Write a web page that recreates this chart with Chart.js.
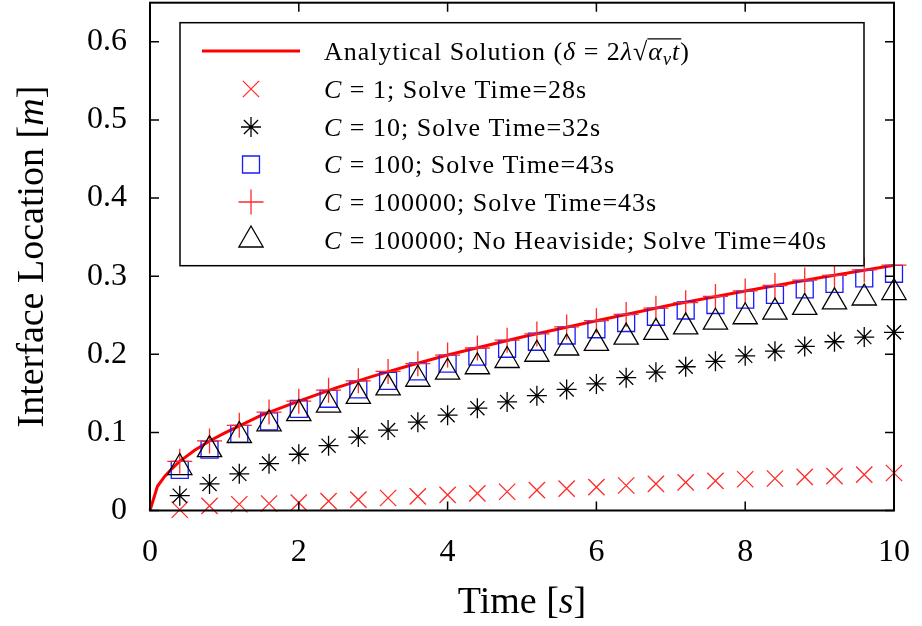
<!DOCTYPE html>
<html>
<head>
<meta charset="utf-8">
<script src="https://cdn.jsdelivr.net/npm/chart.js@4.4.1/dist/chart.umd.min.js"></script>
<style>
    html, body { margin: 0; padding: 0; background: #fff; }
</style>
</head>
<body>
<canvas id="interface-chart" width="922" height="626"></canvas>
<script>
// sample times of the simulations [s]
const times = [0.4, 0.8, 1.2, 1.6, 2.0, 2.4, 2.8, 3.2, 3.6, 4.0, 4.4, 4.8, 5.2,
               5.6, 6.0, 6.4, 6.8, 7.2, 7.6, 8.0, 8.4, 8.8, 9.2, 9.6, 10.0];

// analytical curve
const analyticT = [0, 0.1, 0.2, 0.3, 0.4, 0.6, 0.8, 1, 1.5, 2, 2.5, 3, 3.5, 4, 5, 6, 7, 8, 9, 10];
const analyticY = [0, 0.031, 0.044, 0.054, 0.063, 0.077, 0.089, 0.099, 0.122, 0.140,
                   0.157, 0.172, 0.186, 0.199, 0.222, 0.243, 0.263, 0.281, 0.298, 0.314];

// interface location [m] per run
const c1 = [0.001, 0.006, 0.008, 0.009, 0.010, 0.012, 0.014, 0.016, 0.018, 0.020, 0.022, 0.024, 0.026,
            0.028, 0.030, 0.032, 0.034, 0.036, 0.038, 0.040, 0.041, 0.043, 0.044, 0.046, 0.048];
const c10 = [0.019, 0.034, 0.047, 0.060, 0.072, 0.083, 0.094, 0.103, 0.113, 0.122, 0.131, 0.139, 0.147,
             0.155, 0.162, 0.170, 0.177, 0.184, 0.191, 0.198, 0.204, 0.210, 0.216, 0.222, 0.228];
const c100 = [0.052, 0.078, 0.098, 0.114, 0.130, 0.143, 0.155, 0.166, 0.178, 0.188, 0.197, 0.207, 0.216,
              0.224, 0.232, 0.240, 0.248, 0.256, 0.263, 0.270, 0.276, 0.283, 0.290, 0.297, 0.303];
const c100000 = [0.063, 0.089, 0.109, 0.126, 0.140, 0.154, 0.166, 0.178, 0.188, 0.199, 0.208, 0.218, 0.226,
                 0.235, 0.243, 0.251, 0.259, 0.266, 0.274, 0.281, 0.288, 0.295, 0.301, 0.308, 0.314];
const noHeaviside = [0.055, 0.078, 0.096, 0.111, 0.124, 0.135, 0.146, 0.157, 0.168, 0.177, 0.184, 0.192, 0.200,
                     0.208, 0.214, 0.222, 0.228, 0.235, 0.241, 0.248, 0.254, 0.260, 0.267, 0.272, 0.279];

const xTicks = [0, 2, 4, 6, 8, 10];
const yTicks = [0, 0.1, 0.2, 0.3, 0.4, 0.5, 0.6];

// legend texts: i = italic, sub = subscript, bar = under the root sign
const legendRows = [
    [{t: 'Analytical Solution ('}, {t: 'δ', i: 1}, {t: ' = 2'}, {t: 'λ', i: 1}, {t: '√'},
     {t: 'α', i: 1, bar: 1}, {t: 'v', i: 1, sub: 1, bar: 1}, {t: 't', i: 1, bar: 1}, {t: ')'}],
    [{t: 'C', i: 1}, {t: ' = 1; Solve Time=28s'}],
    [{t: 'C', i: 1}, {t: ' = 10; Solve Time=32s'}],
    [{t: 'C', i: 1}, {t: ' = 100; Solve Time=43s'}],
    [{t: 'C', i: 1}, {t: ' = 100000; Solve Time=43s'}],
    [{t: 'C', i: 1}, {t: ' = 100000; No Heaviside; Solve Time=40s'}]
];

const FONT = '"Liberation Serif", "Times New Roman", serif';

function pts(xs, ys) {
    return xs.map((x, i) => ({x: x, y: ys[i]}));
}

function setFont(ctx, p, size) {
    ctx.font = (p.i ? 'italic ' : '') + (p.sub ? size * 0.7 : size) + 'px ' + FONT;
}

function richWidth(ctx, parts, size) {
    let w = 0;
    parts.forEach(p => {
        setFont(ctx, p, size);
        w += ctx.measureText(p.t).width;
    });
    return w;
}

function drawRich(ctx, parts, x, y, size) {
    let barStart = null, barEnd = null;
    ctx.textBaseline = 'alphabetic';
    ctx.textAlign = 'left';
    parts.forEach(p => {
        setFont(ctx, p, size);
        ctx.fillText(p.t, x, y + (p.sub ? size * 0.2 : 0));
        const w = ctx.measureText(p.t).width;
        if (p.bar) {
            if (barStart === null) barStart = x;
            barEnd = x + w;
        }
        x += w;
    });
    if (barStart !== null) {
        ctx.beginPath();
        ctx.lineWidth = 1.2;
        ctx.moveTo(barStart - 1, y - size * 0.8);
        ctx.lineTo(barEnd + 1, y - size * 0.8);
        ctx.stroke();
    }
}

const frameAndLabels = {
    id: 'frameAndLabels',
    afterDraw(chart) {
        const ctx = chart.ctx;
        const a = chart.chartArea;
        const xs = chart.scales.x, ys = chart.scales.y;
        ctx.save();
        ctx.strokeStyle = '#000';
        ctx.fillStyle = '#000';

        // inward ticks on all four sides
        ctx.lineWidth = 1.5;
        ctx.beginPath();
        xTicks.forEach(v => {
            const px = xs.getPixelForValue(v);
            ctx.moveTo(px, a.bottom); ctx.lineTo(px, a.bottom - 9);
            ctx.moveTo(px, a.top); ctx.lineTo(px, a.top + 9);
        });
        yTicks.forEach(v => {
            const py = ys.getPixelForValue(v);
            ctx.moveTo(a.left, py); ctx.lineTo(a.left + 9, py);
            ctx.moveTo(a.right, py); ctx.lineTo(a.right - 9, py);
        });
        ctx.stroke();
        ctx.lineWidth = 2;
        ctx.strokeRect(a.left, a.top, a.right - a.left, a.bottom - a.top);

        // axis titles
        const ts = 38;
        const xTitle = [{t: 'Time ['}, {t: 's', i: 1}, {t: ']'}];
        const xw = richWidth(ctx, xTitle, ts);
        drawRich(ctx, xTitle, (a.left + a.right) / 2 - xw / 2, 613, ts);

        const yTitle = [{t: 'Interface Location ['}, {t: 'm', i: 1}, {t: ']'}];
        const yw = richWidth(ctx, yTitle, ts);
        ctx.save();
        ctx.translate(43, (a.top + a.bottom) / 2);
        ctx.rotate(-Math.PI / 2);
        drawRich(ctx, yTitle, -yw / 2, 0, ts);
        ctx.restore();

        // legend
        const box = {x: 180, y: 22.7, w: 684, h: 243};
        ctx.fillStyle = '#fff';
        ctx.fillRect(box.x, box.y, box.w, box.h);
        ctx.lineWidth = 1.5;
        ctx.strokeRect(box.x, box.y, box.w, box.h);

        const rowY = [51, 89, 127, 164.5, 202, 240];
        const ls = 26;
        chart.data.datasets.forEach((ds, i) => {
            const cy = rowY[i];
            ctx.save();
            ctx.strokeStyle = ds.borderColor;
            if (ds.showLine) {
                ctx.lineWidth = ds.borderWidth;
                ctx.beginPath();
                ctx.moveTo(202, cy);
                ctx.lineTo(300, cy);
                ctx.stroke();
            } else {
                ctx.lineWidth = ds.pointBorderWidth;
                ctx.fillStyle = 'rgba(0,0,0,0)';
                Chart.helpers.drawPoint(ctx, {
                    pointStyle: ds.pointStyle,
                    radius: ds.pointRadius,
                    rotation: 0,
                    borderWidth: ds.pointBorderWidth
                }, 251, cy);
            }
            ctx.restore();
            ctx.save();
            ctx.fillStyle = '#000';
            ctx.strokeStyle = '#000';
            ctx.letterSpacing = '1px';
            drawRich(ctx, legendRows[i], 324, cy + ls * 0.33, ls);
            ctx.restore();
        });
        ctx.restore();
    }
};

function markerSet(label, values, style, color, radius, order) {
    return {
        label: label,
        data: pts(times, values),
        showLine: false,
        pointStyle: style,
        pointRadius: radius,
        pointHoverRadius: radius,
        pointBorderWidth: 1.3,
        borderColor: color,
        pointBorderColor: color,
        pointBackgroundColor: 'rgba(0,0,0,0)',
        clip: false,
        order: order
    };
}

function noPadding(s) {
    s.paddingTop = 0;
    s.paddingBottom = 0;
    s.paddingLeft = 0;
    s.paddingRight = 0;
}

const ctx = document.getElementById('interface-chart');
new Chart(ctx, {
    type: 'scatter',
    data: {
        datasets: [
            {
                label: 'Analytical Solution',
                data: pts(analyticT, analyticY),
                showLine: true,
                borderColor: '#ff0000',
                borderWidth: 3,
                pointRadius: 0,
                tension: 0,
                clip: false,
                order: 5
            },
            markerSet('C = 1', c1, 'crossRot', '#ff2a2a', 11.5, 4),
            markerSet('C = 10', c10, 'star', '#000000', 10, 3),
            markerSet('C = 100', c100, 'rect', '#1a1aff', 12, 2),
            markerSet('C = 100000', c100000, 'cross', '#ff2a2a', 12.5, 1),
            markerSet('C = 100000 No Heaviside', noHeaviside, 'triangle', '#000000', 14, 0)
        ]
    },
    options: {
        responsive: false,
        animation: false,
        layout: { autoPadding: false, padding: { top: 2.7, right: 28, left: 0, bottom: 0 } },
        plugins: {
            legend: { display: false },
            tooltip: { enabled: false }
        },
        scales: {
            x: {
                type: 'linear',
                min: 0,
                max: 10,
                afterBuildTicks: s => { s.ticks = xTicks.map(v => ({value: v})); },
                afterFit: s => { s.height = 115.5; noPadding(s); },
                grid: { display: false },
                border: { display: false },
                ticks: {
                    padding: 15,
                    color: '#000',
                    font: { family: FONT, size: 32 }
                }
            },
            y: {
                type: 'linear',
                min: 0,
                max: 0.65,
                afterBuildTicks: s => { s.ticks = yTicks.map(v => ({value: v})); },
                afterFit: s => { s.width = 150; noPadding(s); },
                grid: { display: false, drawTicks: false },
                border: { display: false },
                ticks: {
                    padding: 23,
                    color: '#000',
                    font: { family: FONT, size: 32 },
                    callback: v => v === 0 ? '0' : v.toFixed(1)
                }
            }
        }
    },
    plugins: [frameAndLabels]
});
</script>
</body>
</html>
